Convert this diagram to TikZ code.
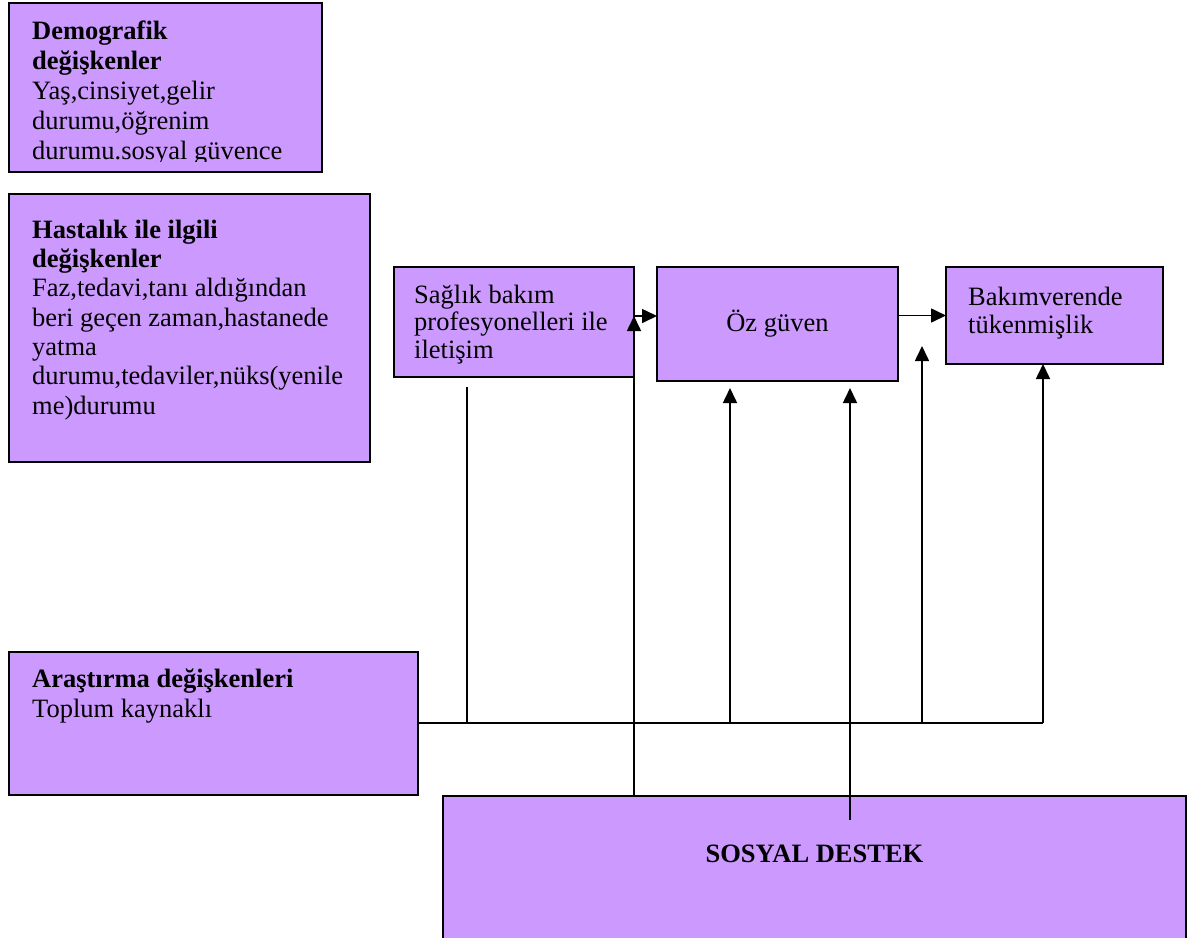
\documentclass[tikz,border=0pt]{standalone}
\usepackage{fontspec}
\setmainfont{Liberation Serif}
\usetikzlibrary{arrows.meta}
\definecolor{lav}{HTML}{CC99FF}
\newcommand\tstrut{\rule{0pt}{24pt}}
\begin{document}
\begin{tikzpicture}[x=1pt,y=-1pt,
  box/.style={draw=black, line width=1.6pt, fill=lav, inner sep=0pt, outer sep=0pt, anchor=north west},
  txt/.style={inner sep=0pt, anchor=north west, align=left},
  conn/.style={line width=1.6pt},
  arr/.style={conn, -{Triangle[length=15pt,width=14pt]}}]
\useasboundingbox (0,0) rectangle (1191,937);
\clip (0,0) rectangle (1191,937);
% boxes
\node[box, minimum width=313pt, minimum height=169pt] (demo) at (9,3) {};
\node[box, minimum width=361pt, minimum height=268pt] (hast) at (9,194) {};
\node[box, minimum width=240pt, minimum height=110pt] (sag) at (394,267) {};
\node[box, minimum width=241pt, minimum height=114pt, font=\fontsize{26.5}{29}\selectfont] (oz) at (657,267) {Öz güven};
\node[box, minimum width=217pt, minimum height=97pt] (bak) at (946,267) {};
\node[box, minimum width=409pt, minimum height=143pt] (ara) at (9,652) {};
\node[box, minimum width=743pt, minimum height=170pt] (sos) at (443,796) {};
% texts
\begin{scope}
\clip (9,3) rectangle (322,161);
\node[txt, font=\fontsize{26.5}{30}\selectfont] (demoT) at (32,15)
  {\tstrut\textbf{Demografik}\\ \textbf{değişkenler}\\ Yaş,cinsiyet,gelir\\ durumu,öğrenim\\ durumu.sosyal güvence};
\end{scope}
\node[txt, font=\fontsize{26.5}{29.3}\selectfont] (hastT) at (32,214)
  {\tstrut\textbf{Hastalık ile ilgili}\\ \textbf{değişkenler}\\ Faz,tedavi,tanı aldığından\\ beri geçen zaman,hastanede\\ yatma\\ durumu,tedaviler,nüks(yenile\\ me)durumu};
\node[txt, font=\fontsize{26.5}{27.5}\selectfont] (sagT) at (414,279)
  {\tstrut Sağlık bakım\\ profesyonelleri ile\\ iletişim};
\node[txt, font=\fontsize{26.5}{28.5}\selectfont] (bakT) at (968,281)
  {\tstrut Bakımverende\\ tükenmişlik};
\node[txt, font=\fontsize{26.5}{30}\selectfont] (araT) at (32,663)
  {\tstrut\textbf{Araştırma değişkenleri}\\ Toplum kaynaklı};
\node[inner sep=0pt, anchor=base, font=\fontsize{26.5}{29}\selectfont] (sosT) at (814.5,862)
  {\textbf{SOSYAL DESTEK}};
% connector points
\coordinate (j1) at (467,723);
\coordinate (j2) at (730,723);
\coordinate (j3) at (922,723);
\coordinate (j4) at (1043,723);
\coordinate (t0) at (467,387);
\coordinate (t1) at (634,316);
\coordinate (t2) at (730,388);
\coordinate (t3) at (922,346);
\coordinate (t5) at (850,388);
\coordinate (s1) at (850,820);
% connectors
\draw[conn] (ara.east |- j4) -- (j4);
\draw[conn] (j1) -- (t0);
\draw[arr] (j2) -- (t2);
\draw[arr] (j3) -- (t3);
\draw[arr] (j4) -- (bak.south -| j4);
\draw[arr] (s1) -- (t5);
\draw[arr] (sag.east |- sos.north) -- (t1);
\draw[arr] (sag.east |- t1) -- (oz.west |- t1);
\draw[arr] (oz.east |- bak.west) -- (bak.west);
\end{tikzpicture}
\end{document}
